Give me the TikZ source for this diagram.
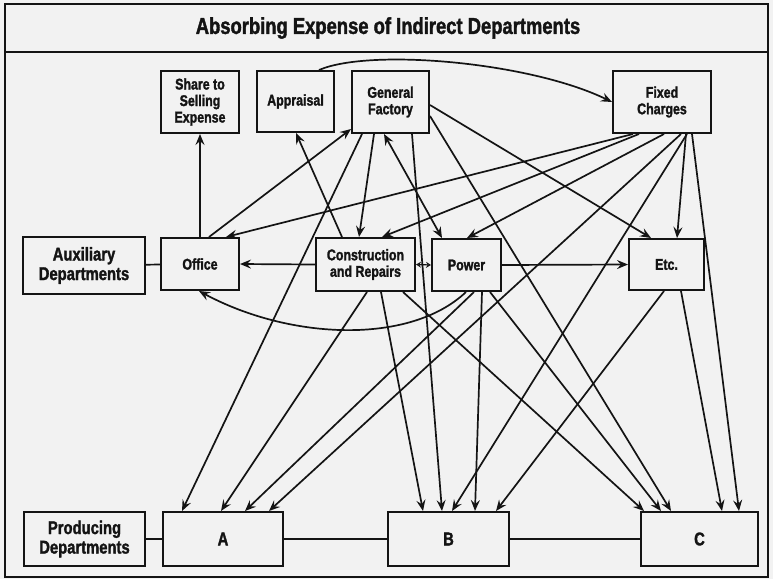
\documentclass[tikz,border=0pt]{standalone}
\usepackage{fontspec}
\setmainfont{Liberation Sans}[FakeStretch=0.8, BoldFeatures={FakeBold=1.6}]
\usetikzlibrary{arrows.meta, positioning}
\definecolor{papercolor}{RGB}{242,242,242}
\definecolor{inkcolor}{RGB}{20,20,20}

\begin{document}
\begin{tikzpicture}[
    x=1pt, y=-1pt,
    box/.style={draw=inkcolor, line width=2pt, fill=papercolor, text=inkcolor, align=center, inner sep=1pt, font=\bfseries\fontsize{15.5}{16.5}\selectfont},
    group/.style={box, font=\bfseries\fontsize{18.5}{19.5}\selectfont},
    arrow/.style={-{Stealth[length=11pt, width=9pt, inset=4pt]}, line width=1.7pt, draw=inkcolor},
    twoway/.style={{Stealth[length=11pt, width=9pt, inset=4pt]}-{Stealth[length=11pt, width=9pt, inset=4pt]}, line width=1.7pt, draw=inkcolor},
    link/.style={line width=1.7pt, draw=inkcolor}
]
    \useasboundingbox (0,0) rectangle (773,579);
    \fill[papercolor] (0,0) rectangle (773,579);
    \draw[inkcolor, line width=2.4pt] (5,4) rectangle (768,577);
    \draw[inkcolor, line width=2.4pt] (5,52) -- (768,52);
    \node[font=\bfseries\fontsize{23}{25}\selectfont, text=inkcolor] (title) at (388,28) {Absorbing Expense of Indirect Departments};

    % indirect departments
    \node[box, minimum width=78pt, minimum height=62pt] (share) at (200,102) {Share to\\Selling\\Expense};
    \node[box, minimum width=77pt, minimum height=61pt] (appraisal) at (295.5,101.5) {Appraisal};
    \node[box, minimum width=77pt, minimum height=62pt] (general) at (390.5,102) {General\\Factory};
    \node[box, minimum width=98pt, minimum height=62pt] (fixed) at (662,102) {Fixed\\Charges};
    \node[group, minimum width=122pt, minimum height=57pt] (aux) at (84,265.5) {Auxiliary\\Departments};
    \node[box, minimum width=78pt, minimum height=52pt] (office) at (200,264) {Office};
    \node[box, minimum width=99pt, minimum height=53pt] (constr) at (365.5,264.5) {Construction\\and Repairs};
    \node[box, minimum width=69pt, minimum height=52pt] (power) at (466.5,265) {Power};
    \node[box, minimum width=75pt, minimum height=51pt] (etc) at (666.5,264.5) {Etc.};

    % producing departments
    \node[group, minimum width=121pt, minimum height=54pt] (prod) at (84.5,539) {Producing\\Departments};
    \node[group, minimum width=120pt, minimum height=54pt] (depa) at (223,539) {A};
    \node[group, minimum width=121pt, minimum height=54pt] (depb) at (448.5,539) {B};
    \node[group, minimum width=117pt, minimum height=54pt] (depc) at (699.5,539) {C};

    \draw[link] (aux) -- (office);
    \draw[link] (prod) -- (depa);
    \draw[link] (depa) -- (depb);
    \draw[link] (depb) -- (depc);

    % upper row
    \draw[arrow] (office.north) -- (share.south);
    \draw[arrow] ([xshift=49pt]office.north west) -- ([yshift=5pt]general.south west);
    \draw[arrow] ([xshift=27pt]constr.north west) -- ([xshift=40pt]appraisal.south west);
    \draw[arrow] ([xshift=63pt]appraisal.north west) .. controls (370,48) and (530,62) .. (fixed.west);
    \draw[arrow] ([xshift=23pt]general.south west) -- ([xshift=44pt]constr.north west);
    \draw[twoway] ([xshift=33pt]general.south west) -- ([xshift=11pt]power.north west);
    \draw[arrow] ([yshift=-3pt]general.east) -- ([xshift=23pt]etc.north west);
    \draw[arrow] ([xshift=21pt]fixed.south west) -- ([xshift=66pt]office.north west);
    \draw[arrow] ([xshift=27pt]fixed.south west) -- ([xshift=67pt]constr.north west);
    \draw[arrow] ([xshift=52pt]fixed.south west) -- ([xshift=36pt]power.north west);
    \draw[arrow] ([xshift=74pt]fixed.south west) -- ([xshift=49pt]etc.north west);

    % middle row
    \draw[arrow] (constr.west) -- (office.east);
    \draw[{Stealth[length=5pt, width=6pt, open]}-{Stealth[length=5pt, width=6pt, open]}, line width=1.2pt, draw=inkcolor] (constr.east) -- (power.west);
    \draw[arrow] (power.east) -- (etc.west);
    \draw[arrow] ([xshift=35pt]power.south west) .. controls (410,345) and (290,340) .. ([xshift=39pt]office.south west);

    % to producing departments
    \draw[arrow] ([xshift=11pt]general.south west) -- ([xshift=20pt]depa.north west);
    \draw[arrow] ([xshift=61pt]general.south west) -- ([xshift=55pt]depb.north west);
    \draw[arrow] ([yshift=-14pt]general.east) -- ([xshift=31pt]depc.north west);
    \draw[arrow] ([xshift=69pt]fixed.south west) -- ([xshift=107pt]depa.north west);
    \draw[arrow] ([xshift=75pt]fixed.south west) -- ([xshift=65pt]depb.north west);
    \draw[arrow] ([xshift=80pt]fixed.south west) -- ([xshift=99pt]depc.north west);
    \draw[arrow] ([xshift=52pt]constr.south west) -- ([xshift=59pt]depa.north west);
    \draw[arrow] ([xshift=66pt]constr.south west) -- ([xshift=36pt]depb.north west);
    \draw[arrow] ([xshift=88pt]constr.south west) -- ([xshift=4pt]depc.north west);
    \draw[arrow] ([xshift=43pt]power.south west) -- ([xshift=83pt]depa.north west);
    \draw[arrow] ([xshift=51pt]power.south west) -- ([xshift=88pt]depb.north west);
    \draw[arrow] ([xshift=59pt]power.south west) -- ([xshift=21pt]depc.north west);
    \draw[arrow] ([xshift=36pt]etc.south west) -- ([xshift=109pt]depb.north west);
    \draw[arrow] ([xshift=53pt]etc.south west) -- ([xshift=82pt]depc.north west);
\end{tikzpicture}
\end{document}
